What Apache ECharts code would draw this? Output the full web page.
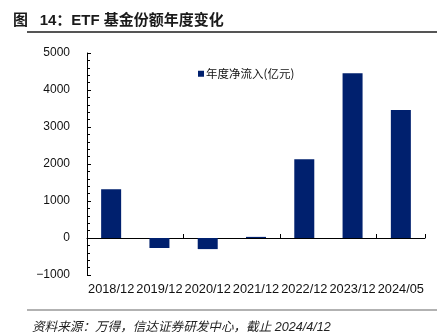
<!DOCTYPE html>
<html>
<head>
<meta charset="utf-8">
<script src="https://cdn.jsdelivr.net/npm/echarts@6/dist/echarts.min.js"></script>
<style>
html,body{margin:0;padding:0;background:#fff;}
#c{width:446px;height:334px;}
</style>
</head>
<body>
<div id="c"></div>
<script>
var categories = ['2018/12','2019/12','2020/12','2021/12','2022/12','2023/12','2024/05'];
var netInflow = [1320, -270, -300, 30, 2130, 4450, 3460];
var seriesName = '年度净流入(亿元)';
var titleText = '图\u2002 14：ETF 基金份额年度变化';
var sourceText = '资料来源：万得，信达证券研发中心，截止 2024/4/12';

var chart = echarts.init(document.getElementById('c'));
var cjk = '"Liberation Sans", "Noto Sans CJK SC", sans-serif';
chart.setOption({
  animation: false,
  backgroundColor: '#fff',
  textStyle: { fontFamily: cjk },
  title: [{
    text: titleText, left: 8, top: 8,
    textStyle: { fontSize: 15, fontWeight: 'bold', color: '#1a1a1a', fontFamily: cjk }
  }, {
    text: sourceText, left: 27, top: 316,
    textStyle: { fontSize: 12.6, fontWeight: 'normal', fontStyle: 'italic', color: '#222', fontFamily: cjk }
  }],
  graphic: [
    { type: 'line', shape: { x1: 27, y1: 32, x2: 437, y2: 32 }, style: { stroke: '#555', lineWidth: 2 } },
    { type: 'line', shape: { x1: 27, y1: 310, x2: 437, y2: 310 }, style: { stroke: '#999', lineWidth: 1.5 } }
  ],
  legend: {
    left: 193, top: 63, icon: 'rect', itemWidth: 6, itemHeight: 6, itemGap: 4,
    textStyle: { fontSize: 11.5, color: '#111', fontFamily: '"Noto Sans CJK SC", sans-serif', padding: [0,0,0,-3] },
    data: [seriesName]
  },
  grid: { left: 87, right: 21, top: 53, bottom: 59, containLabel: false },
  xAxis: [{
    type: 'category', data: categories, position: 'bottom',
    axisLine: { show: false, onZero: false }, axisTick: { show: false },
    axisLabel: { fontSize: 12.8, color: '#111', margin: 8, interval: 0 }
  }, {
    type: 'category', data: categories, position: 'bottom',
    axisLine: { show: true, onZero: true, lineStyle: { color: '#000', width: 1 } },
    axisTick: { show: true, inside: true, length: 4, lineStyle: { color: '#000' } },
    axisLabel: { show: false }
  }],
  yAxis: [{
    type: 'value', min: -1000, max: 5000, interval: 1000,
    axisLine: { show: true, lineStyle: { color: '#000', width: 1 } },
    axisTick: { show: true, inside: true, length: 4, lineStyle: { color: '#000' } },
    splitLine: { show: false },
    axisLabel: { fontSize: 12, color: '#111', margin: 17,
      formatter: function (v) { return String(v).replace('-', '\u2212'); } }
  }, {
    type: 'value', min: -1000, max: 5000, interval: 200, position: 'left',
    axisLine: { show: false },
    axisTick: { show: true, inside: true, length: 3, lineStyle: { color: '#000' } },
    splitLine: { show: false },
    axisLabel: { show: false }
  }],
  series: [{
    name: seriesName, type: 'bar', xAxisIndex: 0, yAxisIndex: 0, data: netInflow,
    barWidth: 20, itemStyle: { color: '#00206e' }
  }]
});
</script>
</body>
</html>
